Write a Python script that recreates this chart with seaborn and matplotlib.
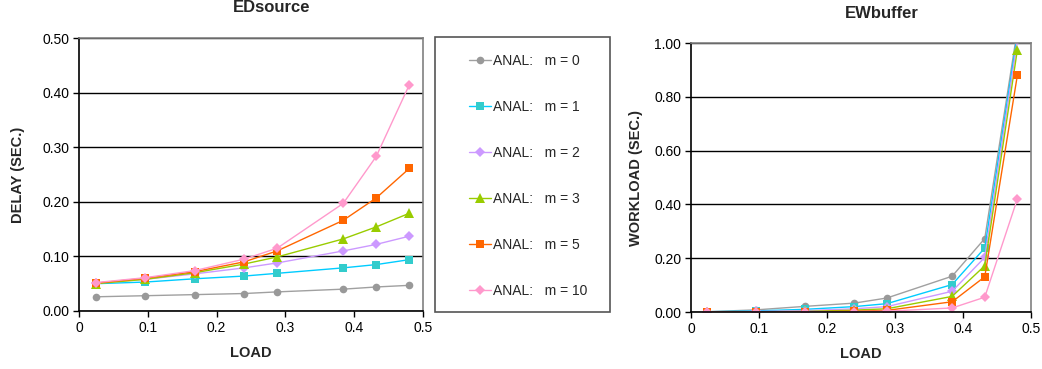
import numpy as np
import pandas as pd
import matplotlib
matplotlib.use("Agg")
import matplotlib.pyplot as plt
from matplotlib.patches import Rectangle
import seaborn as sns

# ---------------- data ----------------
load = [0.024, 0.096, 0.168, 0.240, 0.288, 0.384, 0.432, 0.480]
series_names = ["ANAL:   m = 0", "ANAL:   m = 1", "ANAL:   m = 2",
                "ANAL:   m = 3", "ANAL:   m = 5", "ANAL:   m = 10"]

delay_m0 = [0.026, 0.028, 0.030, 0.032, 0.035, 0.040, 0.044, 0.047]
delay_m1 = [0.050, 0.053, 0.059, 0.064, 0.069, 0.079, 0.085, 0.094]
delay_m2 = [0.051, 0.058, 0.068, 0.079, 0.088, 0.110, 0.122, 0.137]
delay_m3 = [0.050, 0.058, 0.070, 0.086, 0.099, 0.132, 0.154, 0.179]
delay_m5 = [0.051, 0.060, 0.072, 0.090, 0.110, 0.166, 0.207, 0.261]
delay_m10 = [0.052, 0.061, 0.074, 0.095, 0.115, 0.197, 0.283, 0.414]

work_m0 = [0.001, 0.008, 0.021, 0.033, 0.052, 0.133, 0.273, 1.050]
work_m1 = [0.001, 0.004, 0.010, 0.020, 0.031, 0.102, 0.238, 1.030]
work_m2 = [0.000, 0.002, 0.005, 0.012, 0.020, 0.077, 0.203, 1.010]
work_m3 = [0.000, 0.001, 0.002, 0.007, 0.012, 0.058, 0.172, 0.975]
work_m5 = [0.000, 0.000, 0.001, 0.003, 0.006, 0.038, 0.131, 0.881]
work_m10 = [0.000, 0.000, 0.000, 0.001, 0.003, 0.015, 0.055, 0.421]

delay_all = [delay_m0, delay_m1, delay_m2, delay_m3, delay_m5, delay_m10]
work_all = [work_m0, work_m1, work_m2, work_m3, work_m5, work_m10]

x_ticks = [0, 0.1, 0.2, 0.3, 0.4, 0.5]
x_ticklabels = ["0", "0.1", "0.2", "0.3", "0.4", "0.5"]
left_yticks = [0.0, 0.1, 0.2, 0.3, 0.4, 0.5]
right_yticks = [0.0, 0.2, 0.4, 0.6, 0.8, 1.0]

# ---------------- styles ----------------
line_colors = ["#A0A0A0", "#00CCFF", "#CC99FF", "#99CC00", "#FF6600", "#FF99CC"]
marker_colors = ["#999999", "#33CCCC", "#CC99FF", "#99CC00", "#FF6600", "#FF99CC"]
marker_shapes = ["o", "s", "D", "^", "s", "D"]
marker_sizes = [5.5, 6, 5, 7, 6, 5]

rows = []
for name, d, w in zip(series_names, delay_all, work_all):
    for xv, dv, wv in zip(load, d, w):
        rows.append({"series": name, "load": xv, "delay": dv, "work": wv})
df = pd.DataFrame(rows)

sns.set_theme(style="white")
plt.rcParams["font.family"] = ["Liberation Sans", "DejaVu Sans"]

fig = plt.figure(figsize=(10.42, 3.69), dpi=100)
fig.patch.set_facecolor("white")

ax1 = fig.add_axes([79 / 1042, 1 - 311 / 369, (423 - 79) / 1042, (311 - 38) / 369])
ax2 = fig.add_axes([691 / 1042, 1 - 312 / 369, (1031 - 691) / 1042, (312 - 43) / 369])


def draw(ax, ycol):
    for i, name in enumerate(series_names):
        sub = df[df["series"] == name]
        sns.lineplot(data=sub, x="load", y=ycol, ax=ax, color=line_colors[i],
                     linewidth=1.0, marker=marker_shapes[i],
                     markersize=marker_sizes[i], markerfacecolor=marker_colors[i],
                     markeredgecolor=marker_colors[i], markeredgewidth=0,
                     label=name, legend=False, errorbar=None, sort=False)


draw(ax1, "delay")
draw(ax2, "work")

for ax, yt, ylab, lp in [(ax1, left_yticks, "DELAY (SEC.)", 12),
                         (ax2, right_yticks, "WORKLOAD (SEC.)", 8)]:
    ax.set_xlim(0, 0.5)
    ax.set_ylim(yt[0], yt[-1])
    ax.set_xticks(x_ticks)
    ax.set_xticklabels(x_ticklabels, fontsize=10)
    ax.set_yticks(yt)
    ax.set_yticklabels([f"{v:.2f}" for v in yt], fontsize=10)
    ax.set_xlabel("LOAD", fontsize=10.5, fontweight="bold", labelpad=8)
    ax.set_ylabel(ylab, fontsize=10.5, fontweight="bold", labelpad=lp)
    ax.set_axisbelow(True)
    ax.yaxis.grid(True, color="black", linewidth=1.0)
    ax.xaxis.grid(False)
    ax.tick_params(axis="both", direction="out", length=4, width=1, color="black",
                   bottom=True, left=True, pad=3, labelcolor="black")
    ax.spines["left"].set_color("black")
    ax.spines["bottom"].set_color("black")
    ax.spines["top"].set_color("#808080")
    ax.spines["right"].set_color("#808080")
    for s in ax.spines.values():
        s.set_linewidth(1.2)
    ax.set_facecolor("white")

fig.text(272 / 1042, 1 - 8 / 369, "EDsource", ha="center", va="center",
         fontsize=12, fontweight="bold")
fig.text(882 / 1042, 1 - 14 / 369, "EWbuffer", ha="center", va="center",
         fontsize=12, fontweight="bold")

# legend box
fig.patches.append(Rectangle((435 / 1042, 1 - 312 / 369), (610 - 435) / 1042, (312 - 37) / 369,
                             transform=fig.transFigure, facecolor="white",
                             edgecolor="#555555", linewidth=1.2, zorder=0))
handles, labels = ax1.get_legend_handles_labels()
leg = fig.legend(handles, labels, loc="center left",
                 bbox_to_anchor=(463 / 1042, 1 - 176 / 369), frameon=False,
                 fontsize=10, handlelength=1.6, handletextpad=0.15,
                 labelspacing=2.3, borderaxespad=0)

fig.savefig("out.png", dpi=100, facecolor="white")
